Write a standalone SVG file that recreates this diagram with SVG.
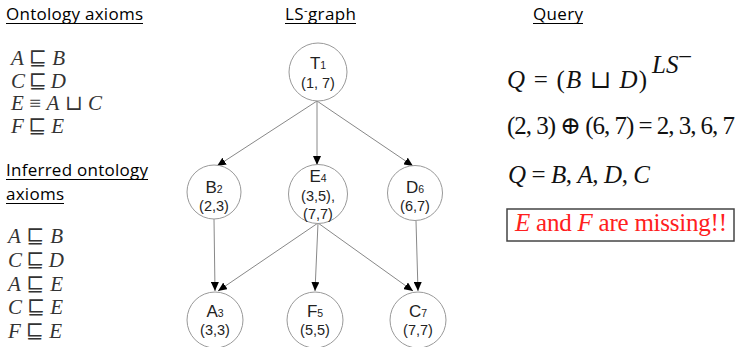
<svg xmlns="http://www.w3.org/2000/svg" width="737" height="347" viewBox="0 0 737 347">
<defs>
<marker id="ah" markerUnits="userSpaceOnUse" markerWidth="10" markerHeight="8" refX="9" refY="4" orient="auto"><path d="M0,0 L9,4 L0,8 z" fill="#000"/></marker>
</defs>
<style>
.h{font-family:"Open Sans","Lato",sans-serif;font-size:17px;fill:#000}
.ul{stroke:#000;stroke-width:1.2}
.m{font-family:"Liberation Serif","DejaVu Serif",serif;font-size:21px;fill:#333}
.q{font-family:"Liberation Serif","DejaVu Serif",serif;font-size:25px;fill:#111}
.i{font-style:italic}
.n{fill:#fff;stroke:#999;stroke-width:1}
.lb{font-family:"Liberation Sans",Arial,sans-serif;font-size:17px;fill:#222;text-anchor:middle}
.cd{font-size:14.5px}
.e{stroke:#888;stroke-width:1;fill:none;marker-end:url(#ah)}
</style>
<rect width="737" height="347" fill="#fff"/>

<g id="headings">
<text class="h" x="6" y="20" textLength="137" lengthAdjust="spacing">Ontology axioms</text>
<line class="ul" x1="6" y1="23.5" x2="143" y2="23.5"/>
<text class="h" x="6" y="176" textLength="142" lengthAdjust="spacing">Inferred ontology</text>
<line class="ul" x1="6" y1="179.5" x2="148" y2="179.5"/>
<text class="h" x="6" y="200" textLength="58" lengthAdjust="spacing">axioms</text>
<line class="ul" x1="6" y1="203.5" x2="64" y2="203.5"/>
<text class="h" x="285" y="20" textLength="71" lengthAdjust="spacing">LS<tspan dy="-6" font-size="11">-</tspan><tspan dy="6">graph</tspan></text>
<line class="ul" x1="285" y1="23.5" x2="356" y2="23.5"/>
<text class="h" x="533" y="20" textLength="50" lengthAdjust="spacing">Query</text>
<line class="ul" x1="533" y1="23.5" x2="583" y2="23.5"/>
</g>

<g id="axioms">
<text class="m" x="11" y="65" textLength="54" lengthAdjust="spacing"><tspan class="i">A</tspan> ⊑ <tspan class="i">B</tspan></text>
<text class="m" x="11" y="87.5" textLength="55" lengthAdjust="spacing"><tspan class="i">C</tspan> ⊑ <tspan class="i">D</tspan></text>
<text class="m" x="11" y="110" textLength="91" lengthAdjust="spacing"><tspan class="i">E</tspan> ≡ <tspan class="i">A</tspan> ⊔ <tspan class="i">C</tspan></text>
<text class="m" x="11" y="132.5" textLength="53" lengthAdjust="spacing"><tspan class="i">F</tspan> ⊑ <tspan class="i">E</tspan></text>
</g>

<g id="inferred">
<text class="m" x="8" y="243" textLength="55" lengthAdjust="spacing"><tspan class="i">A</tspan> ⊑ <tspan class="i">B</tspan></text>
<text class="m" x="8" y="267" textLength="56" lengthAdjust="spacing"><tspan class="i">C</tspan> ⊑ <tspan class="i">D</tspan></text>
<text class="m" x="8" y="291" textLength="55" lengthAdjust="spacing"><tspan class="i">A</tspan> ⊑ <tspan class="i">E</tspan></text>
<text class="m" x="8" y="314" textLength="55" lengthAdjust="spacing"><tspan class="i">C</tspan> ⊑ <tspan class="i">E</tspan></text>
<text class="m" x="8" y="338" textLength="54" lengthAdjust="spacing"><tspan class="i">F</tspan> ⊑ <tspan class="i">E</tspan></text>
</g>

<g id="connectors">
<line class="e" x1="317" y1="101" x2="217" y2="166"/>
<line class="e" x1="317" y1="101" x2="317" y2="165"/>
<line class="e" x1="317" y1="101" x2="413" y2="166"/>
<line class="e" x1="214" y1="219" x2="215" y2="291"/>
<line class="e" x1="318" y1="223" x2="218" y2="291"/>
<line class="e" x1="318" y1="223" x2="315" y2="291"/>
<line class="e" x1="318" y1="223" x2="413" y2="291"/>
<line class="e" x1="416" y1="221" x2="418" y2="291"/>
</g>

<g id="node-T">
<circle class="n" cx="318" cy="72" r="29"/>
<text class="lb" x="318" y="69">T<tspan font-size="10.5">1</tspan></text>
<text class="lb cd" x="318" y="88">(1, 7)</text>
</g>
<g id="node-B">
<circle class="n" cx="214" cy="192" r="27"/>
<text class="lb" x="214" y="193">B<tspan font-size="10.5">2</tspan></text>
<text class="lb cd" x="214" y="211">(2,3)</text>
</g>
<g id="node-E">
<circle class="n" cx="318" cy="194" r="29.5"/>
<text class="lb" x="318" y="182">E<tspan font-size="10.5">4</tspan></text>
<text class="lb cd" x="318" y="201">(3,5),</text>
<text class="lb cd" x="318" y="219">(7,7)</text>
</g>
<g id="node-D">
<circle class="n" cx="415" cy="193" r="27.5"/>
<text class="lb" x="415" y="193">D<tspan font-size="10.5">6</tspan></text>
<text class="lb cd" x="415" y="211">(6,7)</text>
</g>
<g id="node-A">
<circle class="n" cx="215" cy="320" r="28"/>
<text class="lb" x="215" y="317">A<tspan font-size="10.5">3</tspan></text>
<text class="lb cd" x="215" y="335">(3,3)</text>
</g>
<g id="node-F">
<circle class="n" cx="315" cy="320" r="28"/>
<text class="lb" x="315" y="317">F<tspan font-size="10.5">5</tspan></text>
<text class="lb cd" x="315" y="335">(5,5)</text>
</g>
<g id="node-C">
<circle class="n" cx="418" cy="320" r="28"/>
<text class="lb" x="418" y="317">C<tspan font-size="10.5">7</tspan></text>
<text class="lb cd" x="418" y="335">(7,7)</text>
</g>

<g id="query">
<text class="q" x="507" y="88" textLength="140" lengthAdjust="spacing"><tspan class="i">Q</tspan> = (<tspan class="i">B</tspan> ⊔ <tspan class="i">D</tspan>)</text>
<text class="q i" x="652" y="73" font-size="15">LS</text>
<text class="q" x="678" y="65" font-size="11">−</text>
<text class="q" x="507" y="134" textLength="228" lengthAdjust="spacing">(2, 3) ⊕ (6, 7) = 2, 3, 6, 7</text>
<text class="q" x="508" y="183" textLength="142" lengthAdjust="spacing"><tspan class="i">Q</tspan> = <tspan class="i">B</tspan>, <tspan class="i">A</tspan>, <tspan class="i">D</tspan>, <tspan class="i">C</tspan></text>
<rect x="507" y="209" width="227" height="32" fill="#fff" stroke="#444" stroke-width="1.5"/>
<text class="q" x="515" y="231" font-size="23" style="fill:#ff2020" textLength="212" lengthAdjust="spacing"><tspan class="i">E</tspan> and <tspan class="i">F</tspan> are missing!!</text>
</g>
</svg>
